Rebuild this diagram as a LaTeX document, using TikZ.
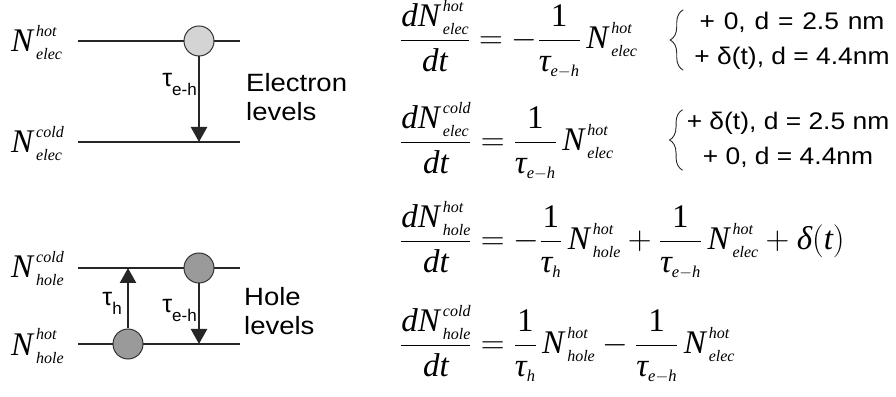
\RequirePackage{fix-cm}
\documentclass[tikz,border=0pt]{standalone}
\usepackage{amsmath}
\usepackage{graphicx}
\usepackage{fontspec}
\setmainfont{Liberation Serif}
\setsansfont{Liberation Sans}
\usetikzlibrary{arrows.meta,positioning,decorations.pathreplacing}
\definecolor{dotlight}{HTML}{D4D4D4}
\definecolor{dotdark}{HTML}{9A9A9A}
\newsavebox{\supbox}
\newsavebox{\subbox}
% N with raised/lowered labels, set in text mode
\newcommand{\popx}[2]{\textit{N}\kern1.5pt%
  \sbox{\supbox}{\fontsize{16}{16}\selectfont\itshape #1}%
  \sbox{\subbox}{\fontsize{16}{16}\selectfont\itshape #2}%
  \rlap{\raisebox{15.5pt}{\usebox{\supbox}}}\raisebox{-8pt}{\usebox{\subbox}}%
  \ifdim\wd\supbox>\wd\subbox\kern\dimexpr\wd\supbox-\wd\subbox\relax\fi}
\newcommand{\ti}[1]{\text{\itshape #1}}
\newcommand{\pop}[2]{\text{\popx{#1}{#2}}}
\newcommand{\ttau}[1]{\ti{τ}_{\scriptscriptstyle #1}}
\newcommand{\eh}{\ti{e}\mathord{-}\ti{h}}
\newcommand{\rate}[1]{τ\raisebox{-9pt}{\fontsize{17}{17}\selectfont #1}}
\newcommand{\widetext}[2]{\scalebox{1.1}[1]{\begin{tabular}{@{}#1@{}}#2\end{tabular}}}
\tikzset{
  levelline/.style={line width=2.6pt, draw=black!85},
  levelarrow/.style={-{Triangle[length=15pt, width=16pt]}, line width=2.4pt,
    draw=black!85, fill=black!85},
  hotdot/.style={circle, minimum size=30pt, inner sep=0pt, line width=1pt,
    draw=black!80, fill=dotlight},
  holedot/.style={hotdot, fill=dotdark},
  poplabel/.style={inner sep=0pt, anchor=base west, font=\fontsize{33}{40}\selectfont},
  ratelabel/.style={inner sep=1pt, font=\sffamily\fontsize{25}{28}\selectfont},
  grouplabel/.style={inner sep=0pt, anchor=west,
    font=\sffamily\fontsize{25}{29.5}\selectfont},
  rateeq/.style={inner sep=0pt, anchor=base west, font=\fontsize{33}{40}\selectfont},
  caselines/.style={inner sep=0pt, font=\sffamily\fontsize{24}{35}\selectfont},
  casebrace/.style={decorate, decoration={brace, amplitude=13pt}, line width=0.9pt,
    draw=black!85}
}
\begin{document}
\begin{tikzpicture}[x=1pt, y=1pt]
  \useasboundingbox (0,0) rectangle (896,396);

  % electron levels
  \coordinate (ehiL) at (78,355);  \coordinate (ehiR) at (240,355);
  \coordinate (eloL) at (78,254);  \coordinate (eloR) at (240,254);
  \coordinate (elo) at (199,254);
  \draw[levelline] (ehiL) -- (ehiR);
  \draw[levelline] (eloL) -- (eloR);
  \node[hotdot] (ehot) at (199,355) {};
  \draw[levelarrow] (ehot.south) -- node[ratelabel, left, pos=0.33] (ehrate)
    {\rate{e-h}} (elo);

  \node[poplabel] (nehot) at (11,344) {\popx{hot}{elec}};
  \node[poplabel] (necold) at (11,243) {\popx{cold}{elec}};
  \node[grouplabel] (elevels) at (246,296) {\widetext{l}{Electron\\levels}};

  % hole levels
  \coordinate (hhiL) at (78,128);  \coordinate (hhiR) at (240,128);
  \coordinate (hloL) at (78,52);   \coordinate (hloR) at (240,52);
  \coordinate (hhi) at (128,128);  \coordinate (hlo) at (199,52);
  \draw[levelline] (hhiL) -- (hhiR);
  \draw[levelline] (hloL) -- (hloR);
  \node[holedot] (hcold) at (199,128) {};
  \node[holedot] (hhot) at (128,52) {};
  \draw[levelarrow] (hhot.north) -- node[ratelabel, left, pos=0.42, xshift=-4pt]
    (hrate) {\rate{h}} (hhi);
  \draw[levelarrow] (hcold.south) -- node[ratelabel, left, pos=0.45] (hehrate)
    {\rate{e-h}} (hlo);

  \node[poplabel] (nhcold) at (11,118) {\popx{cold}{hole}};
  \node[poplabel] (nhhot) at (11,41) {\popx{hot}{hole}};
  \node[grouplabel] (hlevels) at (244,82) {\widetext{l}{Hole\\levels}};

  % rate equations
  \node[rateeq] (eqone) at (400,347)
    {$\displaystyle \frac{\ti{d}\pop{hot}{elec}}{\ti{dt}}
      = -\frac{\text{1}}{\ttau{\eh}}\,\pop{hot}{elec}$};
  \node[rateeq] (eqtwo) at (400,245)
    {$\displaystyle \frac{\ti{d}\pop{cold}{elec}}{\ti{dt}}
      = \frac{\text{1}}{\ttau{\eh}}\,\pop{hot}{elec}$};
  \node[rateeq] (eqthree) at (400,146)
    {$\displaystyle \frac{\ti{d}\pop{hot}{hole}}{\ti{dt}}
      = -\frac{\text{1}}{\ttau{\ti{h}}}\,\pop{hot}{hole}
      + \frac{\text{1}}{\ttau{\eh}}\,\pop{hot}{elec} + \ti{δ}(\ti{t})$};
  \node[rateeq] (eqfour) at (400,42)
    {$\displaystyle \frac{\ti{d}\pop{cold}{hole}}{\ti{dt}}
      = \frac{\text{1}}{\ttau{\ti{h}}}\,\pop{hot}{hole}
      - \frac{\text{1}}{\ttau{\eh}}\,\pop{hot}{elec}$};

  \node[caselines] (caseone) at (792,356)
    {\widetext{c}{{\spaceskip=8pt\relax + 0, d = 2.5 nm}\\+ δ(t), d = 4.4nm}};
  \node[caselines] (casetwo) at (788,256)
    {\widetext{c}{+ δ(t), d = 2.5 nm\\+ 0, d = 4.4nm}};
  \draw[casebrace] ([xshift=-11pt, yshift=5pt]caseone.south west)
    -- ([xshift=-11pt, yshift=-5pt]caseone.north west);
  \draw[casebrace] ([xshift=-4pt, yshift=5pt]casetwo.south west)
    -- ([xshift=-4pt, yshift=-5pt]casetwo.north west);
\end{tikzpicture}
\end{document}
